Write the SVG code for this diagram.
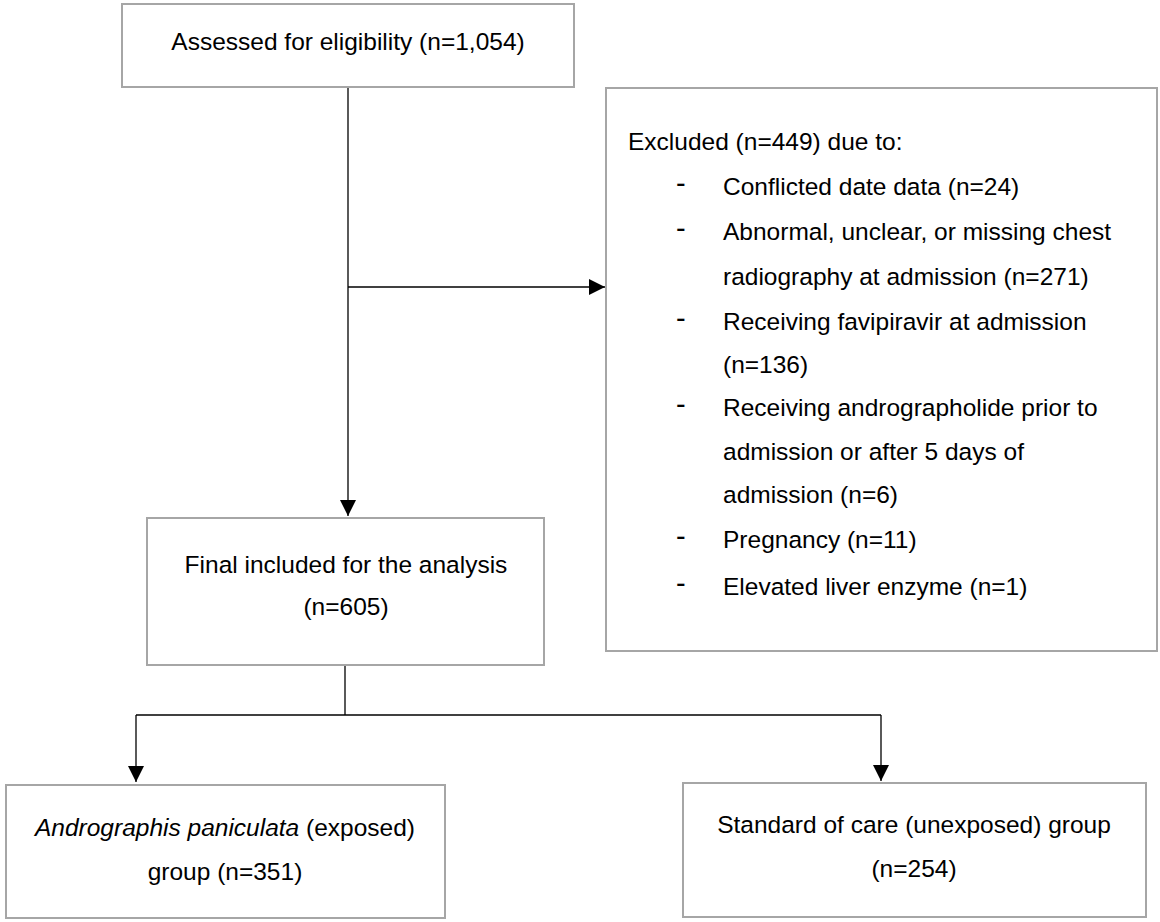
<svg xmlns="http://www.w3.org/2000/svg" width="1160" height="922" viewBox="0 0 1160 922">
<style>
.box{fill:#fff;stroke:#a6a6a6;stroke-width:2}
.t{font-family:"Liberation Sans",Arial,sans-serif;font-size:24.5px;fill:#000}
.d{font-family:"Liberation Sans",Arial,sans-serif;font-size:29px;fill:#000}
.c{text-anchor:middle}
.ln{fill:none;stroke:#000;stroke-width:1.3}
</style>
<defs>
<marker id="ah" viewBox="0 0 16 16" refX="16" refY="8" markerWidth="16" markerHeight="16" markerUnits="userSpaceOnUse" orient="auto">
<path d="M0,0 L16,8 L0,16 Z" fill="#000"/>
</marker>
</defs>
<rect width="1160" height="922" fill="#fff"/>
<g id="connectors">
<path class="ln" d="M348,87 V516" marker-end="url(#ah)"/>
<path class="ln" d="M348,287 H605" marker-end="url(#ah)"/>
<path class="ln" d="M345,665 V715"/>
<path class="ln" d="M136,715 H881"/>
<path class="ln" d="M136,715 V782" marker-end="url(#ah)"/>
<path class="ln" d="M881,715 V781" marker-end="url(#ah)"/>
</g>
<g id="assessed">
<rect class="box" x="122" y="4" width="452" height="83"/>
<text class="t c" x="348" y="50">Assessed for eligibility (n=1,054)</text>
</g>
<g id="excluded">
<rect class="box" x="606" y="88" width="551" height="563"/>
<text class="t" x="628" y="150">Excluded (n=449) due to:</text>
<text class="d" x="676" y="193">-</text>
<text class="t" x="723" y="195">Conflicted date data (n=24)</text>
<text class="d" x="676" y="238">-</text>
<text class="t" x="723" y="240">Abnormal, unclear, or missing chest</text>
<text class="t" x="723" y="285">radiography at admission (n=271)</text>
<text class="d" x="676" y="328">-</text>
<text class="t" x="723" y="330">Receiving favipiravir at admission</text>
<text class="t" x="723" y="373">(n=136)</text>
<text class="d" x="676" y="414">-</text>
<text class="t" x="723" y="416">Receiving andrographolide prior to</text>
<text class="t" x="723" y="460">admission or after 5 days of</text>
<text class="t" x="723" y="503">admission (n=6)</text>
<text class="d" x="676" y="546">-</text>
<text class="t" x="723" y="548">Pregnancy (n=11)</text>
<text class="d" x="676" y="593">-</text>
<text class="t" x="723" y="595">Elevated liver enzyme (n=1)</text>
</g>
<g id="final">
<rect class="box" x="147" y="518" width="397" height="147"/>
<text class="t c" x="346" y="573">Final included for the analysis</text>
<text class="t c" x="346" y="615">(n=605)</text>
</g>
<g id="exposed">
<rect class="box" x="6" y="785" width="439" height="133"/>
<text class="t c" x="225" y="836"><tspan font-style="italic">Andrographis paniculata</tspan> (exposed)</text>
<text class="t c" x="225" y="880">group (n=351)</text>
</g>
<g id="unexposed">
<rect class="box" x="683" y="783" width="463" height="134"/>
<text class="t c" x="914" y="833">Standard of care (unexposed) group</text>
<text class="t c" x="914" y="877">(n=254)</text>
</g>
</svg>
